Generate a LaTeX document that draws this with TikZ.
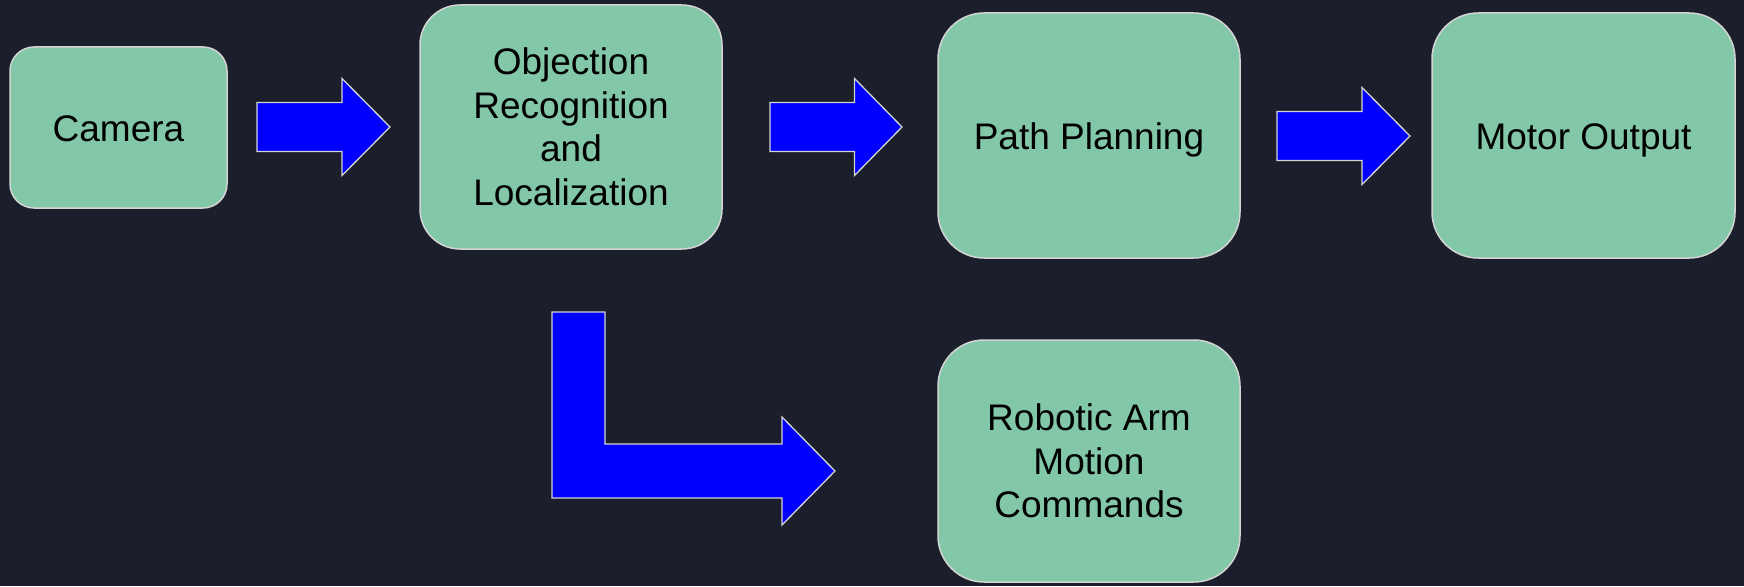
\documentclass[tikz,border=0pt]{standalone}
\usepackage{fontspec}
\setmainfont{Liberation Sans}
\definecolor{bgnavy}{HTML}{1B1F2B}
\definecolor{boxgreen}{HTML}{82C7A7}
\definecolor{rimgray}{HTML}{D4D4D4}

\begin{document}
\begin{tikzpicture}[x=1pt, y=-1pt,
    stage/.style={draw=rimgray, line width=1.5pt, fill=boxgreen, text=black, align=center,
        font=\fontsize{37}{43.5}\selectfont, inner sep=0pt},
    oneline/.style={stage, text height=28pt, text depth=0pt},
    blockarrow/.style={draw=rimgray, line width=1.3pt, fill=blue, line join=miter}]

%\draw[xstep=100,ystep=100,color=gray!80] (0, 0) grid (1744, 586);

\useasboundingbox[fill=bgnavy] (0, 0) rectangle (1744, 586);

\node[oneline, rounded corners=24, minimum width=217, minimum height=161] (camera) at (118.5, 127.5) {Camera};
\node[stage, rounded corners=40, minimum width=302, minimum height=244] (recog) at (571, 127) {Objection\\Recognition\\and\\Localization};
\node[oneline, rounded corners=46, minimum width=302, minimum height=245] (plan) at (1089, 135.5) {Path Planning};
\node[oneline, rounded corners=46, minimum width=303, minimum height=245] (motor) at (1583.5, 135.5) {Motor Output};
\node[stage, rounded corners=46, minimum width=302, minimum height=242] (arm) at (1089, 461) {Robotic Arm\\Motion\\Commands};

    	\foreach \t/\b/\p/\y in {257/342/390/127, 770/854.5/902/127, 1277/1362/1410/136}
     		\draw[blockarrow] (\t, \y-24.5) -- (\b, \y-24.5) -- (\b, \y-48.5) -- (\p, \y)
			-- (\b, \y+48.5) -- (\b, \y+24.5) -- (\t, \y+24.5) -- cycle
			;

\draw[blockarrow] (552, 312) -- (605, 312) -- (605, 444) -- (782, 444) -- (782, 417) -- (835, 471)
    -- (782, 525) -- (782, 498) -- (552, 498) -- cycle;

\end{tikzpicture}
\end{document}
